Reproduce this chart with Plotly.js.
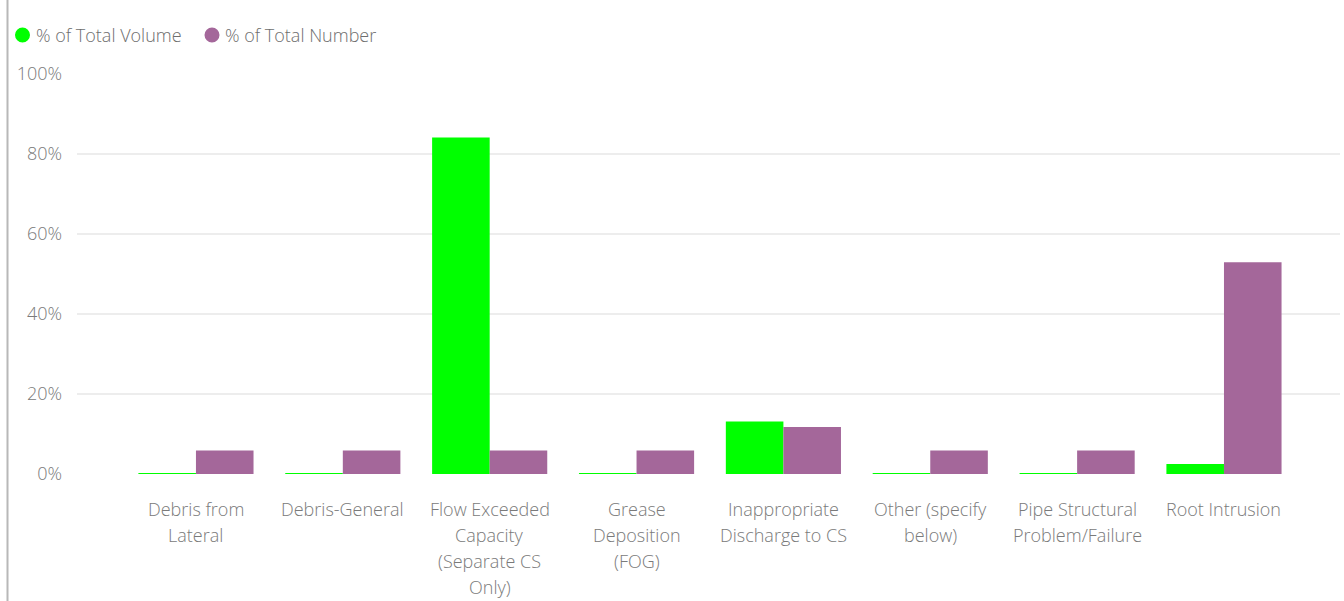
<!DOCTYPE html>
<html>
<head>
<meta charset="utf-8">
<script src="https://cdn.plot.ly/plotly-3.0.1.min.js"></script>
<style>
html,body{margin:0;padding:0;background:#fff;}
#chart{width:1344px;height:601px;}
</style>
</head>
<body>
<div id="chart"></div>
<script>
// ---- data ----
const categories = [
  "Debris from Lateral",
  "Debris-General",
  "Flow Exceeded Capacity (Separate CS Only)",
  "Grease Deposition (FOG)",
  "Inappropriate Discharge to CS",
  "Other (specify below)",
  "Pipe Structural Problem/Failure",
  "Root Intrusion"
];
const categoryLabelLines = [
  ["Debris from", "Lateral"],
  ["Debris-General"],
  ["Flow Exceeded", "Capacity", "(Separate CS", "Only)"],
  ["Grease", "Deposition", "(FOG)"],
  ["Inappropriate", "Discharge to CS"],
  ["Other (specify", "below)"],
  ["Pipe Structural", "Problem/Failure"],
  ["Root Intrusion"]
];
const pctTotalVolume = [0.25, 0.25, 84.1, 0.25, 13.1, 0.25, 0.25, 2.5];
const pctTotalNumber = [5.88, 5.88, 5.88, 5.88, 11.76, 5.88, 5.88, 52.94];
const seriesNames = ["% of Total Volume", "% of Total Number"];
const yTickVals = [0, 20, 40, 60, 80, 100];
const yTickText = ["0%", "20%", "40%", "60%", "80%", "100%"];

// ---- style ----
const GREEN = "#00FF00";
const PURPLE = "#A4679A";
const TEXT = "#7a7a7a";
const FONT = "Open Sans, Segoe UI, sans-serif";

// plot area geometry in px
const W = 1344, H = 601;
const L = 77, R = 4, T = 74, B = 127;
const pw = W - L - R, ph = H - T - B;
const px2paperX = p => (p - L) / pw;
const px2paperY = p => (H - B - p) / ph;

const traces = [
  {type: "bar", name: seriesNames[0], x: categories, y: pctTotalVolume,
   marker: {color: GREEN}, showlegend: false, hoverinfo: "x+y"},
  {type: "bar", name: seriesNames[1], x: categories, y: pctTotalNumber,
   marker: {color: PURPLE}, showlegend: false, hoverinfo: "x+y"}
];

const annotations = [];
const shapes = [];
categoryLabelLines.forEach((lines, i) => {
  lines.forEach((ln, j) => {
    annotations.push({
      x: categories[i], xref: "x", y: px2paperY(509 + 26 * j), yref: "paper",
      text: ln, showarrow: false, xanchor: "center", yanchor: "middle",
      font: {family: FONT, size: 18, color: TEXT, weight: 300}
    });
  });
});

// legend (custom circles + text)
const legendItems = [
  {cx: 22.5, tx: 34, color: GREEN, name: seriesNames[0]},
  {cx: 212, tx: 223, color: PURPLE, name: seriesNames[1]}
];
legendItems.forEach(it => {
  shapes.push({
    type: "circle", xref: "paper", yref: "paper",
    xsizemode: "pixel", ysizemode: "pixel",
    xanchor: px2paperX(it.cx), yanchor: px2paperY(35),
    x0: -7.5, x1: 7.5, y0: -7.5, y1: 7.5,
    fillcolor: it.color, line: {width: 0}
  });
  annotations.push({
    x: px2paperX(it.tx), xref: "paper", y: px2paperY(35), yref: "paper",
    text: it.name, showarrow: false, xanchor: "left", yanchor: "middle",
    font: {family: FONT, size: 18, color: "#6e6e6e", weight: 300}
  });
});

// left border line
shapes.push({
  type: "line", xref: "paper", yref: "paper",
  x0: px2paperX(7.5), x1: px2paperX(7.5), y0: px2paperY(0), y1: px2paperY(601),
  line: {color: "#b8b8b8", width: 2}
});

const layout = {
  width: W, height: H,
  margin: {l: L, r: R, t: T, b: B, pad: 0},
  paper_bgcolor: "#fff", plot_bgcolor: "#fff",
  barmode: "group", bargap: 0.216, bargroupgap: 0,
  showlegend: false,
  xaxis: {
    type: "category", range: [-0.81, 7.79],
    showticklabels: false, showgrid: false, zeroline: false, showline: false, ticks: ""
  },
  yaxis: {
    range: [0, 100], tickvals: yTickVals, ticktext: yTickText,
    showgrid: true, gridcolor: "#ededed", gridwidth: 2,
    zeroline: false, showline: false, ticks: "",
    ticklabelstandoff: 14,
    tickfont: {family: FONT, size: 18, color: TEXT, weight: 300}
  },
  annotations: annotations,
  shapes: shapes
};

Plotly.newPlot("chart", traces, layout, {staticPlot: true, displayModeBar: false});
</script>
</body>
</html>
